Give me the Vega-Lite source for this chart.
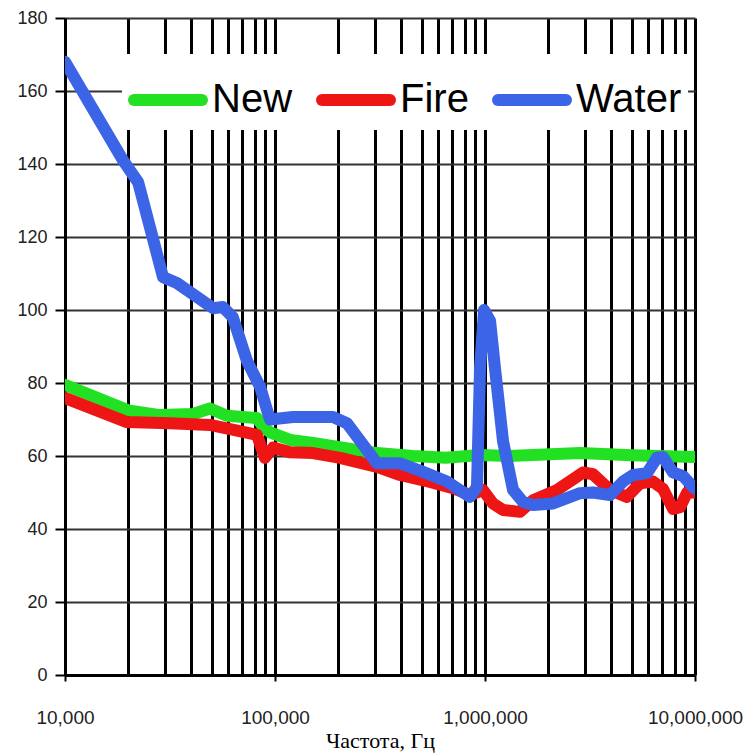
{
  "$schema": "https://vega.github.io/schema/vega-lite/v6.json",
  "width": 630,
  "height": 657,
  "autosize": {"type": "none"},
  "padding": {"left": 65, "top": 18, "right": 52, "bottom": 81},
  "background": "white",
  "config": {"view": {"stroke": null}},
  "data": {"values": [
    {"series": "New", "freq": 10000, "value": 79.5},
    {"series": "New", "freq": 20000, "value": 72.5},
    {"series": "New", "freq": 28300, "value": 71.2},
    {"series": "New", "freq": 40700, "value": 71.5},
    {"series": "New", "freq": 49000, "value": 73},
    {"series": "New", "freq": 59000, "value": 71},
    {"series": "New", "freq": 82000, "value": 70.4},
    {"series": "New", "freq": 87700, "value": 68},
    {"series": "New", "freq": 94700, "value": 66.5},
    {"series": "New", "freq": 118000, "value": 64.4},
    {"series": "New", "freq": 151700, "value": 63.6},
    {"series": "New", "freq": 306000, "value": 60.8},
    {"series": "New", "freq": 454000, "value": 60},
    {"series": "New", "freq": 650000, "value": 59.5},
    {"series": "New", "freq": 947000, "value": 60.3},
    {"series": "New", "freq": 1300000, "value": 60},
    {"series": "New", "freq": 2830000, "value": 60.8},
    {"series": "New", "freq": 5000000, "value": 60.2},
    {"series": "New", "freq": 10000000, "value": 59.7},

    {"series": "Fire", "freq": 10000, "value": 75.9},
    {"series": "Fire", "freq": 19700, "value": 69.3},
    {"series": "Fire", "freq": 31600, "value": 69},
    {"series": "Fire", "freq": 49000, "value": 68.5},
    {"series": "Fire", "freq": 70500, "value": 66.6},
    {"series": "Fire", "freq": 82000, "value": 65.8},
    {"series": "Fire", "freq": 89500, "value": 59.5},
    {"series": "Fire", "freq": 97800, "value": 62.3},
    {"series": "Fire", "freq": 118000, "value": 61},
    {"series": "Fire", "freq": 151700, "value": 60.8},
    {"series": "Fire", "freq": 204000, "value": 59.5},
    {"series": "Fire", "freq": 306000, "value": 57},
    {"series": "Fire", "freq": 394000, "value": 54.8},
    {"series": "Fire", "freq": 547000, "value": 52.9},
    {"series": "Fire", "freq": 705000, "value": 51.2},
    {"series": "Fire", "freq": 849000, "value": 49.3},
    {"series": "Fire", "freq": 978000, "value": 50.7},
    {"series": "Fire", "freq": 1091000, "value": 47},
    {"series": "Fire", "freq": 1219000, "value": 45.2},
    {"series": "Fire", "freq": 1468000, "value": 44.7},
    {"series": "Fire", "freq": 1693000, "value": 47.9},
    {"series": "Fire", "freq": 2203000, "value": 50.7},
    {"series": "Fire", "freq": 2931000, "value": 55.5},
    {"series": "Fire", "freq": 3267000, "value": 55},
    {"series": "Fire", "freq": 3937000, "value": 50.7},
    {"series": "Fire", "freq": 4740000, "value": 48.8},
    {"series": "Fire", "freq": 5470000, "value": 52.5},
    {"series": "Fire", "freq": 6310000, "value": 53},
    {"series": "Fire", "freq": 7040000, "value": 51},
    {"series": "Fire", "freq": 7860000, "value": 45.5},
    {"series": "Fire", "freq": 8490000, "value": 46},
    {"series": "Fire", "freq": 9160000, "value": 49.9},
    {"series": "Fire", "freq": 10000000, "value": 50},

    {"series": "Water", "freq": 10000, "value": 168},
    {"series": "Water", "freq": 18900, "value": 141},
    {"series": "Water", "freq": 22300, "value": 135},
    {"series": "Water", "freq": 29300, "value": 109},
    {"series": "Water", "freq": 34100, "value": 107.4},
    {"series": "Water", "freq": 50700, "value": 100.5},
    {"series": "Water", "freq": 56500, "value": 100.8},
    {"series": "Water", "freq": 63000, "value": 98},
    {"series": "Water", "freq": 73600, "value": 86},
    {"series": "Water", "freq": 84900, "value": 79},
    {"series": "Water", "freq": 91600, "value": 72.6},
    {"series": "Water", "freq": 94700, "value": 70},
    {"series": "Water", "freq": 121800, "value": 70.7},
    {"series": "Water", "freq": 188900, "value": 70.7},
    {"series": "Water", "freq": 220000, "value": 69},
    {"series": "Water", "freq": 306000, "value": 58},
    {"series": "Water", "freq": 394000, "value": 58},
    {"series": "Water", "freq": 490000, "value": 56},
    {"series": "Water", "freq": 659000, "value": 53},
    {"series": "Water", "freq": 849000, "value": 48.8},
    {"series": "Water", "freq": 916000, "value": 51.5},
    {"series": "Water", "freq": 947000, "value": 84},
    {"series": "Water", "freq": 990000, "value": 100},
    {"series": "Water", "freq": 1057000, "value": 97},
    {"series": "Water", "freq": 1116000, "value": 84},
    {"series": "Water", "freq": 1219000, "value": 64},
    {"series": "Water", "freq": 1360000, "value": 50.7},
    {"series": "Water", "freq": 1517000, "value": 47.4},
    {"series": "Water", "freq": 1693000, "value": 46.6},
    {"series": "Water", "freq": 2109000, "value": 47},
    {"series": "Water", "freq": 2834000, "value": 49.8},
    {"series": "Water", "freq": 3267000, "value": 50},
    {"series": "Water", "freq": 3937000, "value": 49.3},
    {"series": "Water", "freq": 4540000, "value": 53},
    {"series": "Water", "freq": 5070000, "value": 54.8},
    {"series": "Water", "freq": 5906000, "value": 55.3},
    {"series": "Water", "freq": 6590000, "value": 59.5},
    {"series": "Water", "freq": 7040000, "value": 59.7},
    {"series": "Water", "freq": 7860000, "value": 55.5},
    {"series": "Water", "freq": 8770000, "value": 54.5},
    {"series": "Water", "freq": 9780000, "value": 51.5},
    {"series": "Water", "freq": 10000000, "value": 51}
  ]},
  "mark": {"type": "line", "strokeWidth": 12, "strokeCap": "round", "strokeJoin": "round", "clip": true},
  "encoding": {
    "x": {
      "field": "freq", "type": "quantitative",
      "scale": {"type": "log", "domain": [10000, 10000000], "nice": false},
      "axis": {
        "values": [10000, 20000, 30000, 40000, 50000, 60000, 70000, 80000, 90000,
                   100000, 200000, 300000, 400000, 500000, 600000, 700000, 800000, 900000,
                   1000000, 2000000, 3000000, 4000000, 5000000, 6000000, 7000000, 8000000, 9000000, 10000000],
        "labelExpr": "(datum.value == 10000 || datum.value == 100000 || datum.value == 1000000 || datum.value == 10000000) ? format(datum.value, ',') : ''",
        "tickOpacity": {"condition": {"test": "datum.value == 10000 || datum.value == 100000 || datum.value == 1000000 || datum.value == 10000000", "value": 1}, "value": 0},
        "tickSize": 6, "tickWidth": 2, "tickColor": "black",
        "grid": true, "gridColor": "black", "gridWidth": 3, "gridOpacity": 1,
        "domain": true, "domainColor": "black", "domainWidth": 3,
        "labelFont": "Liberation Sans", "labelFontSize": 19, "labelColor": "#222",
        "labelPadding": 27, "labelOverlap": false, "labelBound": false, "labelFlush": false,
        "title": "Частота, Гц", "titleFont": "Liberation Serif", "titleFontSize": 22,
        "titleFontWeight": "normal", "titleColor": "black", "titlePadding": 3
      }
    },
    "y": {
      "field": "value", "type": "quantitative",
      "scale": {"domain": [0, 180], "nice": false},
      "axis": {
        "values": [0, 20, 40, 60, 80, 100, 120, 140, 160, 180],
        "grid": true, "gridColor": "#333", "gridWidth": 2, "gridOpacity": 1,
        "domain": true, "domainColor": "black", "domainWidth": 3,
        "tickSize": 10, "tickWidth": 2, "tickColor": "black",
        "labelFont": "Liberation Sans", "labelFontSize": 18, "labelColor": "#222",
        "labelPadding": 8,
        "title": null
      }
    },
    "color": {
      "field": "series", "type": "nominal",
      "scale": {"domain": ["New", "Fire", "Water"], "range": ["#22e022", "#ee1515", "#3c64e6"]},
      "legend": {
        "orient": "none", "legendX": 57, "legendY": 36, "direction": "horizontal",
        "title": null, "symbolType": "stroke", "symbolSize": 4624, "symbolStrokeWidth": 12,
        "labelFont": "Liberation Sans", "labelFontSize": 40, "labelColor": "black", "labelLimit": 300,
        "labelOffset": 4, "columnPadding": 5, "fillColor": "white", "padding": 6,
        "encode": {"symbols": {"update": {"strokeCap": {"value": "round"}}}}
      }
    },
    "order": {"field": "freq", "type": "quantitative"}
  }
}
